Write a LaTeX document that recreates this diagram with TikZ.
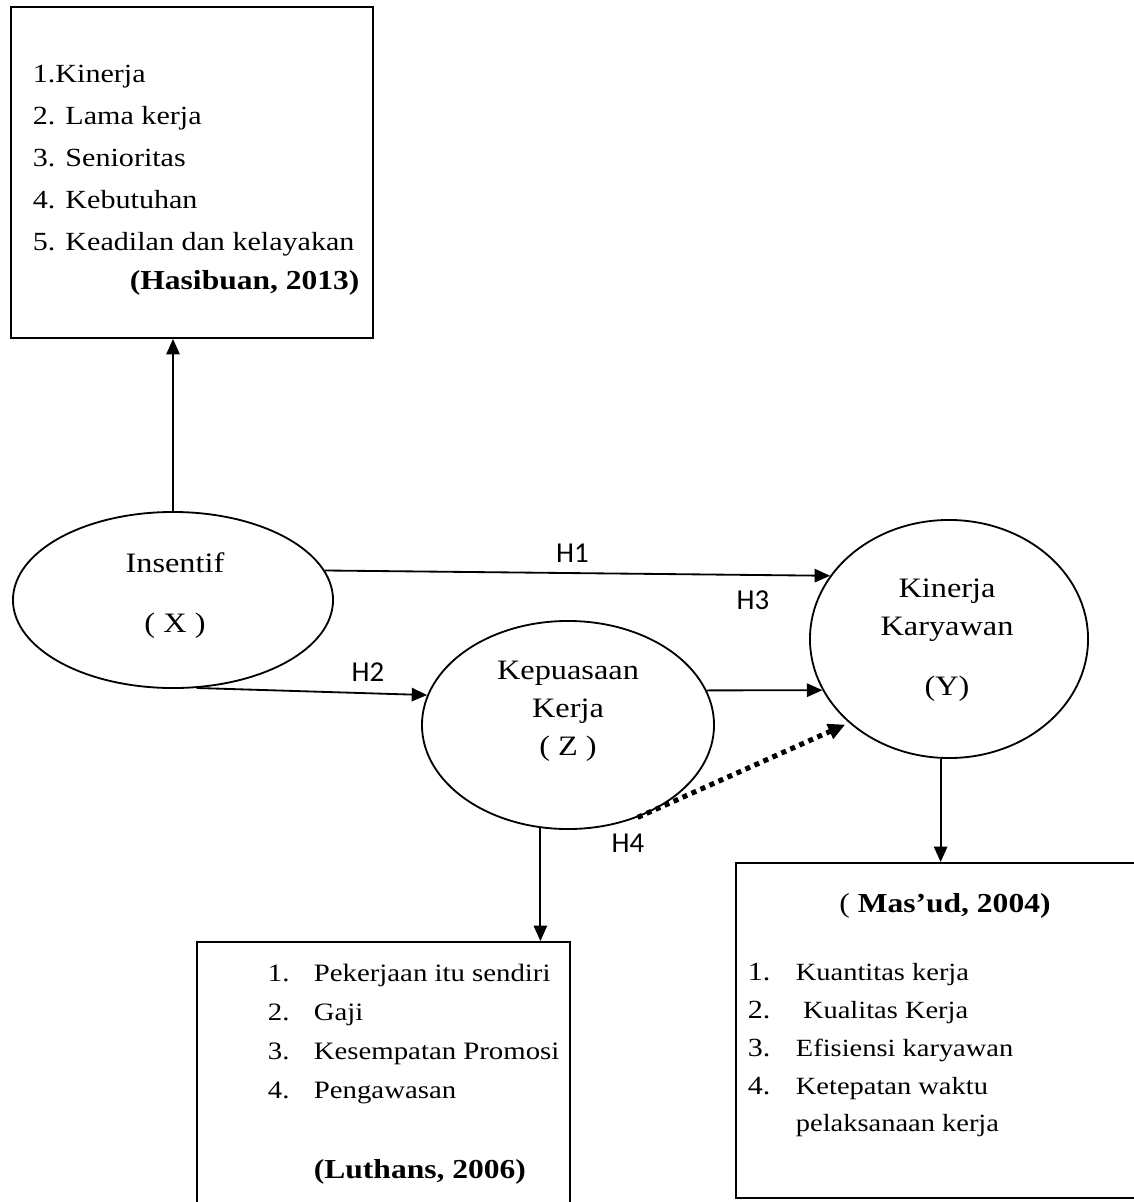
\documentclass[tikz,border=0pt]{standalone}
\usepackage{fontspec}
\setmainfont{Liberation Serif}[FakeStretch=1.15]
\newfontfamily\hfont{Carlito}
\usetikzlibrary{arrows.meta, shapes.geometric, positioning}

\begin{document}
\begin{tikzpicture} [x=0.025cm, y=-0.025cm, line width=1.3pt,
    every node/.style={font=\fontsize{18.6}{22}\selectfont, inner sep=0pt},
    var/.style={draw, ellipse, line width=1.3pt},
    vtext/.style={anchor=base, font=\fontsize{20}{24}\selectfont},
    box/.style={draw, rectangle, line width=1.3pt},
    item/.style={anchor=base west},
    litem/.style={anchor=base west, font=\fontsize{17.8}{21}\selectfont},
    mitem/.style={anchor=base west, font=\fontsize{17.6}{21}\selectfont},
    hyp/.style={font=\hfont\fontsize{20.5}{24}\selectfont},
    >={Triangle[length=11pt, width=9.5pt]}]
        \useasboundingbox (0,0) rectangle (1133,1202);

        % variabel
        \node (ins) [var, minimum width=8cm, minimum height=4.4cm] at (173,600) {};
        \node (kep) [var, minimum width=7.3cm, minimum height=5.2cm] at (568,725) {};
        \node (kin) [var, minimum width=6.95cm, minimum height=5.95cm] at (949,639) {};

        \node (insa) [vtext] at (175,572) {Insentif};
        \node (insb) [vtext] at (175,632) {( X )};
        \node (kepa) [vtext] at (568,679) {Kepuasaan};
        \node (kepb) [vtext] at (568,717) {Kerja};
        \node (kepc) [vtext] at (568,755) {( Z )};
        \node (kina) [vtext] at (947,597) {Kinerja};
        \node (kinb) [vtext] at (947,635) {Karyawan};
        \node (kinc) [vtext] at (947,695) {(Y)};

        % indikator
        \node (hbox) [box, minimum width=9.05cm, minimum height=8.275cm] at (192,172.5) {};
        \foreach \t [count=\i] in {1.Kinerja, 2. Lama kerja, 3. Senioritas,
            4. Kebutuhan, 5. Keadilan dan kelayakan}
            \node (h\i) [item] at (32,{83+41.75*(\i-1)}) {\t};
        \node (hsrc) [item, font=\fontsize{19.5}{23}\selectfont] at (129,289) {\bfseries (Hasibuan, 2013)};

        \node (lbox) [box, minimum width=9.325cm, minimum height=7cm] at (383.5,1082) {};
        \foreach \t [count=\i] in {Pekerjaan itu sendiri, Gaji,
            Kesempatan Promosi, Pengawasan} {
            \node (ln\i) [litem] at (267,{981+39*(\i-1)}) {\i.};
            \node (l\i) [litem] at (313,{981+39*(\i-1)}) {\t};
        }
        \node (lsrc) [litem, font=\fontsize{19.5}{23}\selectfont] at (313,1178) {\bfseries (Luthans, 2006)};

        \node (mbox) [box, minimum width=10.225cm, minimum height=8.375cm] at (940.5,1030.5) {};
        \node (msrc) [anchor=base, font=\fontsize{19.5}{23}\selectfont] at (945,912) {( \bfseries Mas’ud, 2004)};
        \foreach \t [count=\i] in {Kuantitas kerja, \ Kualitas Kerja,
            Efisiensi karyawan, Ketepatan waktu} {
            \node (mn\i) [item] at (747,{980+38.3*(\i-1)}) {\i.};
            \node (m\i) [mitem] at (795,{980+38.3*(\i-1)}) {\t};
        }
        \node (m5) [mitem] at (795,1131) {pelaksanaan kerja};

        % hipotesis
        \path [->]
        (ins.11) edge node [hyp, pos=0.49, yshift=0.5cm] {H1} (kin.152)
        (ins.-75.6) edge (kep.168)
        (kep.14.3) edge (kin.202.1)
        (ins.north) edge (ins.north |- hbox.south)
        (kep.255) edge (kep.255 |- lbox.north)
        (kin.266) edge (kin.266 |- mbox.north)
        ;
        \draw [-{Triangle[length=12pt, width=11pt]}, line width=3.6pt,
            dash pattern=on 3.6pt off 3.4pt, shorten >=3pt] (kep.-53.6) -- (kin.220);

        \node (h2) [hyp] at (368,672) {H2};
        \node (h3) [hyp] at (753,600) {H3};
        \node (h4) [hyp] at (628,843) {H4};
    \end{tikzpicture}
\end{document}
